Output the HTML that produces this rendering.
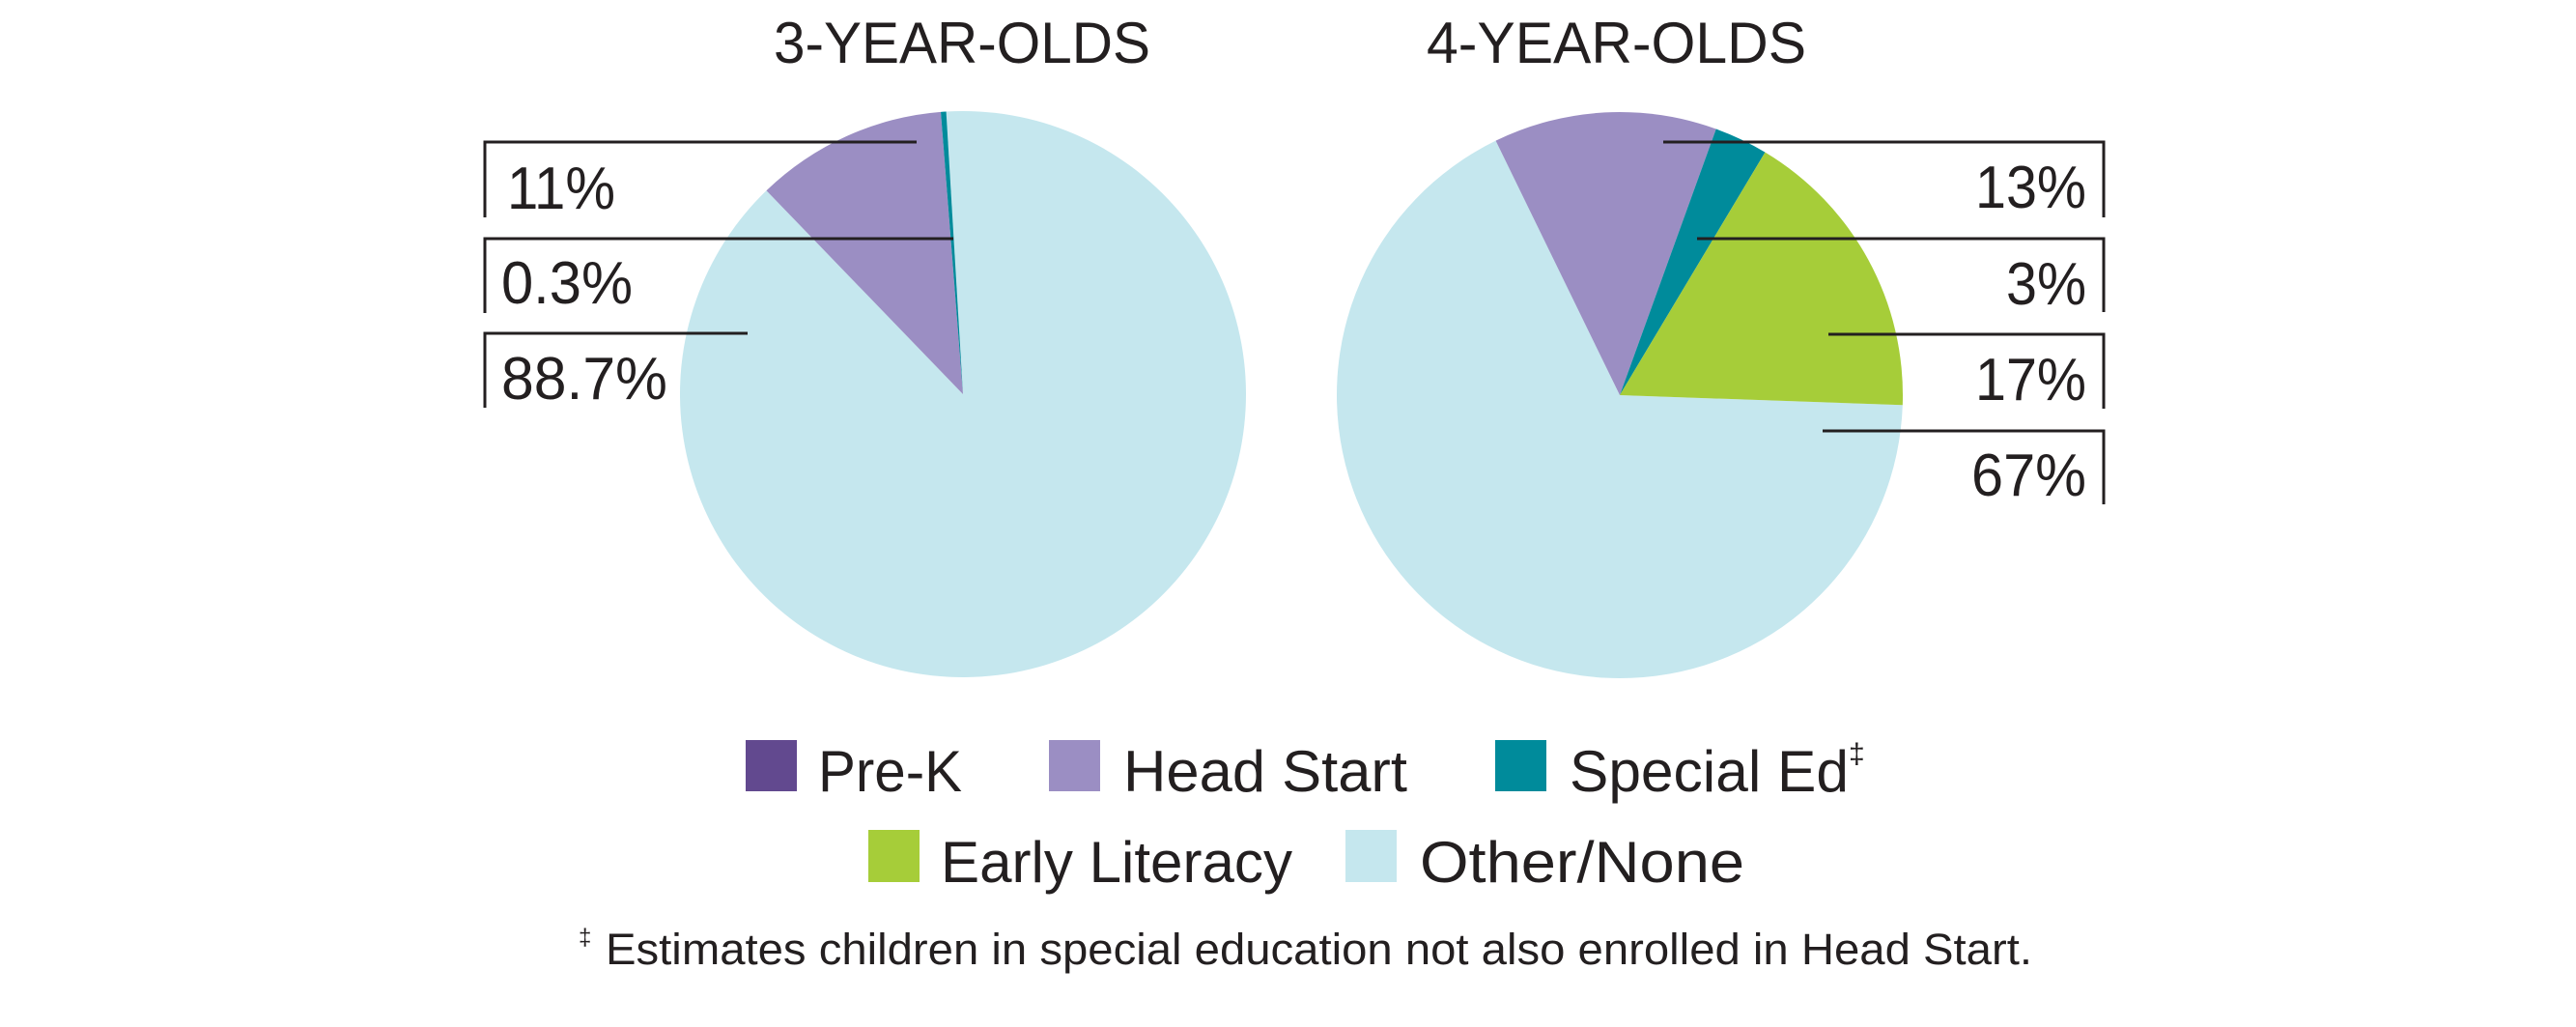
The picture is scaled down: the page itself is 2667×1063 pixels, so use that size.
<!DOCTYPE html>
<html><head><meta charset="utf-8"><style>
html,body{margin:0;padding:0;background:#fff;}
svg{display:block;}
text{font-family:"Liberation Sans",sans-serif;fill:#231f20;}
</style></head><body>
<svg id="s" width="2667" height="1063" viewBox="0 0 2667 1063" xmlns="http://www.w3.org/2000/svg">
<g id="pies"></g>
<g font-size="60">
<text x="801" y="65" textLength="390" lengthAdjust="spacingAndGlyphs">3-YEAR-OLDS</text>
<text x="1477" y="65" textLength="393" lengthAdjust="spacingAndGlyphs">4-YEAR-OLDS</text>
</g>
<g stroke="#231f20" stroke-width="3" fill="none">
<polyline points="949,147 502,147 502,225"/>
<polyline points="987,247 502,247 502,324"/>
<polyline points="774,345 502,345 502,422"/>
<polyline points="1722,147 2178,147 2178,225"/>
<polyline points="1757,247 2178,247 2178,323"/>
<polyline points="1893,346 2178,346 2178,423"/>
<polyline points="1887,446 2178,446 2178,522"/>
</g>
<g font-size="62">
<text x="525" y="216" textLength="112" lengthAdjust="spacingAndGlyphs">11%</text>
<text x="519" y="314" textLength="136" lengthAdjust="spacingAndGlyphs">0.3%</text>
<text x="519" y="413" textLength="172" lengthAdjust="spacingAndGlyphs">88.7%</text>
<text x="2045" y="215" textLength="115" lengthAdjust="spacingAndGlyphs">13%</text>
<text x="2077" y="315" textLength="83" lengthAdjust="spacingAndGlyphs">3%</text>
<text x="2045" y="414" textLength="115" lengthAdjust="spacingAndGlyphs">17%</text>
<text x="2041" y="513" textLength="119" lengthAdjust="spacingAndGlyphs">67%</text>
</g>
<rect x="772" y="766" width="53" height="53" fill="#62498f"/>
<rect x="1086" y="766" width="53" height="53" fill="#9b8ec3"/>
<rect x="1548" y="766" width="53" height="53" fill="#008b9b"/>
<rect x="899" y="859" width="53" height="54" fill="#a6cd39"/>
<rect x="1393" y="859" width="53" height="54" fill="#c5e7ee"/>
<g font-size="60">
<text x="847" y="819" textLength="149" lengthAdjust="spacingAndGlyphs">Pre-K</text>
<text x="1163" y="819" textLength="294" lengthAdjust="spacingAndGlyphs">Head Start</text>
<text x="1625" y="819" textLength="289" lengthAdjust="spacingAndGlyphs">Special Ed</text>
<text x="1914" y="790" font-size="30">‡</text>
<text x="974" y="913" textLength="364" lengthAdjust="spacingAndGlyphs">Early Literacy</text>
<text x="1470" y="913" textLength="336" lengthAdjust="spacingAndGlyphs">Other/None</text>
</g>
<text x="599" y="978" font-size="24">‡</text>
<text x="627" y="998" font-size="45" textLength="1477" lengthAdjust="spacingAndGlyphs">Estimates children in special education not also enrolled in Head Start.</text>
</svg>
<script>
(function(){
var g=document.getElementById('pies');
function pt(cx,cy,r,a){var t=a*Math.PI/180;return [cx+r*Math.sin(t),cy-r*Math.cos(t)];}
function slice(cx,cy,r,a0,a1,c){
 var p0=pt(cx,cy,r,a0),p1=pt(cx,cy,r,a1);var large=(a1-a0)>180?1:0;
 var d='M'+cx+','+cy+' L'+p0[0].toFixed(2)+','+p0[1].toFixed(2)+' A'+r+','+r+' 0 '+large+' 1 '+p1[0].toFixed(2)+','+p1[1].toFixed(2)+' Z';
 var e=document.createElementNS('http://www.w3.org/2000/svg','path');e.setAttribute('d',d);e.setAttribute('fill',c);g.appendChild(e);}
var r=293;
slice(997,408,r,-3.4,316,'#c5e7ee');
slice(997,408,r,-44,-4.5,'#9b8ec3');
slice(997,408,r,-4.5,-3.4,'#008b9b');
slice(1677,409,r,92,334,'#c5e7ee');
slice(1677,409,r,-26,19.9,'#9b8ec3');
slice(1677,409,r,19.9,30.9,'#008b9b');
slice(1677,409,r,30.9,92,'#a6cd39');
})();
</script>
</body></html>
